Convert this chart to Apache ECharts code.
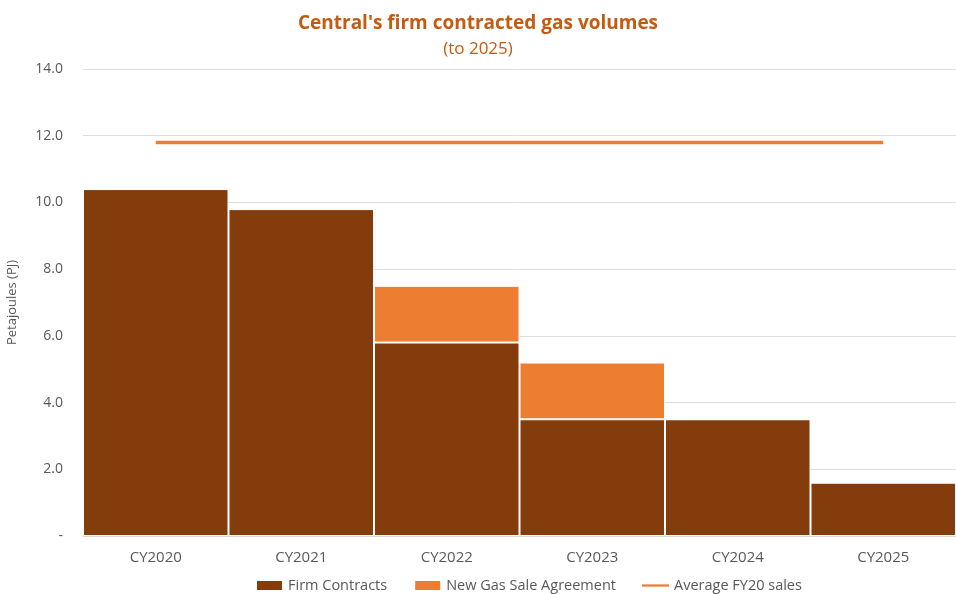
<!DOCTYPE html>
<html>
<head>
<meta charset="utf-8">
<script src="https://cdn.jsdelivr.net/npm/echarts@6/dist/echarts.min.js"></script>
<style>
  html, body { margin: 0; padding: 0; background: #fff; }
  #chart { width: 956px; height: 594px; }
</style>
</head>
<body>
<div id="chart"></div>
<script>
// data
const years = ['CY2020', 'CY2021', 'CY2022', 'CY2023', 'CY2024', 'CY2025']
const firmContracts = [10.4, 9.8, 5.8, 3.5, 3.5, 1.6]
const newGasSale = [0, 0, 1.7, 1.7, 0, 0]
const avgFY20 = [11.8, 11.8, 11.8, 11.8, 11.8, 11.8]

const chart = echarts.init(document.getElementById('chart'))
const font = 'Open Sans, Lato, sans-serif'

chart.setOption({
    animation: false,
    title: {
        text: "Central's firm contracted gas volumes",
        subtext: '(to 2025)',
        left: 'center',
        top: 9,
        itemGap: 8,
        textStyle: { color: '#C55A11', fontSize: 19, fontWeight: 'bold', fontFamily: font },
        subtextStyle: { color: '#C55A11', fontSize: 17, fontFamily: font }
    },
    legend: {
        bottom: -4,
        left: 250,
        itemWidth: 27,
        itemHeight: 11,
        itemGap: 26,
        textStyle: { color: '#595959', fontSize: 14.5, fontFamily: font },
        data: [
            { name: 'Firm Contracts', icon: 'rect' },
            { name: 'New Gas Sale Agreement', icon: 'rect' },
            { name: 'Average FY20 sales', icon: 'path://M0,0 L36,0 L36,3 L0,3 Z' }
        ]
    },
    grid: { left: 83, right: 0, top: 69, bottom: 58, outerBoundsMode: 'none' },
    xAxis: {
        type: 'category',
        data: years,
        axisTick: { show: false },
        axisLine: { lineStyle: { color: '#D9D9D9' } },
        axisLabel: { color: '#595959', fontSize: 15, margin: 14, fontFamily: font }
    },
    yAxis: {
        type: 'value',
        min: 0,
        max: 14,
        interval: 2,
        name: 'Petajoules (PJ)',
        nameLocation: 'middle',
        nameGap: 64,
        nameTextStyle: { color: '#595959', fontSize: 13, fontFamily: font },
        axisLabel: {
            color: '#595959', fontSize: 14, margin: 20, fontFamily: font,
            formatter: v => v === 0 ? '-' : v.toFixed(1)
        },
        splitLine: { lineStyle: { color: '#DEDEDE' } }
    },
    series: [
        {
            name: 'Firm Contracts',
            type: 'bar',
            stack: 'vol',
            barCategoryGap: '0%',
            data: firmContracts,
            itemStyle: { color: '#843C0C', borderColor: '#fff', borderWidth: 1 }
        },
        {
            name: 'New Gas Sale Agreement',
            type: 'bar',
            stack: 'vol',
            data: newGasSale,
            itemStyle: { color: '#ED7D31', borderColor: '#fff', borderWidth: 1 }
        },
        {
            name: 'Average FY20 sales',
            type: 'line',
            data: avgFY20,
            symbol: 'none',
            lineStyle: { color: '#ED7D31', width: 3.5 },
            itemStyle: { color: '#ED7D31' }
        }
    ]
})
</script>
</body>
</html>
